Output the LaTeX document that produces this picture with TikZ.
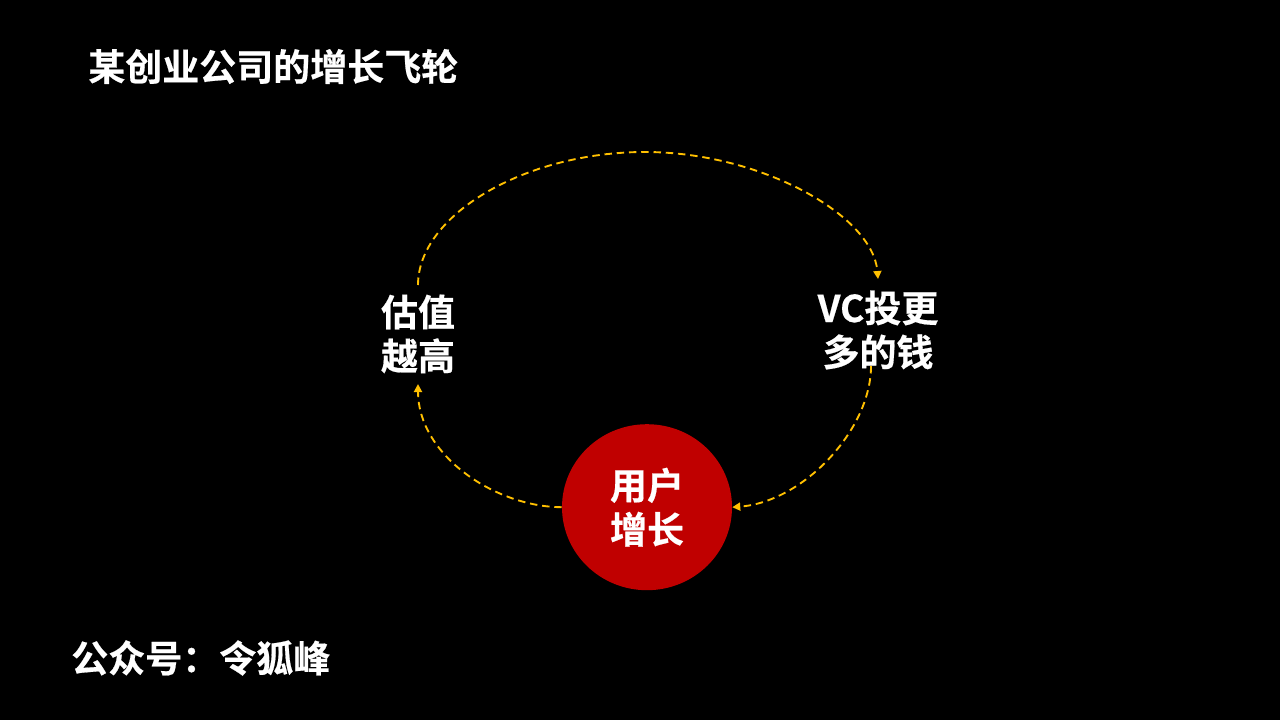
\documentclass[tikz,border=0pt]{standalone}
\usepackage{fontspec}
\newfontfamily\cjk{Noto Sans CJK SC}[BoldFont={Noto Sans CJK SC Bold},BoldFeatures={FakeBold=0.5}]
\usetikzlibrary{arrows.meta,shapes.geometric}
\definecolor{hubred}{HTML}{C00000}
\definecolor{loopgold}{HTML}{FFC000}
\tikzset{
  px/.style={x=0.75pt,y=-0.75pt},
  lbl/.style={text=white,font=\cjk\bfseries\fontsize{27.75pt}{33pt}\selectfont,align=center,inner sep=0pt},
  loopline/.style={draw=loopgold,line width=1.4pt,dash pattern=on 5.6pt off 3.6pt,-{Triangle[length=6pt,width=6pt]}}
}
\begin{document}
\begin{tikzpicture}[px]
\useasboundingbox[fill=black] (0,0) rectangle (1280,720);
\node[ellipse,fill=hubred,minimum width=127.5pt,minimum height=124.5pt,lbl] (hub) at (647,507.2) {用户\\增长};
\node[lbl] (val) at (418,334) {估值\\越高};
\node[lbl] (vc) at (878,330) {VC投更\\多的钱};
\node[lbl,anchor=west] (title) at (88,66.5) {某创业公司的增长飞轮};
\node[lbl,anchor=west] (acct) at (71,658) {公众号：令狐峰};
\coordinate (a) at (418,285);
\coordinate (b) at (878,279);
\coordinate (c) at (871,366);
\coordinate (f) at (418,384);
\draw[loopline] (a) .. controls (418,215) and (525,152) .. (645,152) .. controls (760,152) and (873,215) .. (b);
\draw[loopline] (c) .. controls (871,430) and (803,502) .. (hub.east);
\draw[loopline] (hub.west) .. controls (495,507) and (418,455) .. (f);
\end{tikzpicture}
\end{document}
